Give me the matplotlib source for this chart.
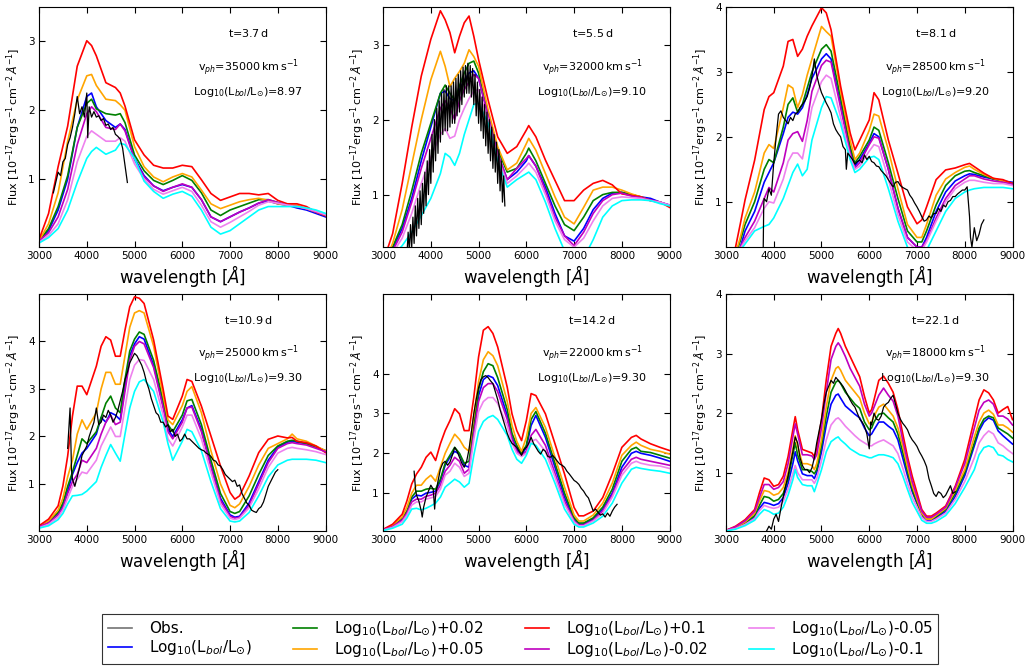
import matplotlib
matplotlib.use('Agg')
import matplotlib.pyplot as plt
from matplotlib.lines import Line2D

# ---------------- Panel 1 : t=3.7 d ----------------
p1_wave = [3000,3200,3400,3600,3800,4000,4100,4200,4400,4600,4700,4800,5000,5200,5400,5600,5800,6000,6200,6400,6600,6800,7000,7200,7400,7600,7800,8000,8200,8400,8600,8800,9000]
p1_base = [0.10,0.25,0.55,1.00,1.75,2.20,2.25,2.05,1.85,1.75,1.80,1.72,1.30,1.05,0.90,0.83,0.88,0.92,0.88,0.70,0.45,0.38,0.45,0.52,0.58,0.65,0.68,0.64,0.62,0.58,0.55,0.50,0.45]
p1_p002 = [0.10,0.28,0.60,1.05,1.75,2.10,2.16,2.02,1.95,1.93,1.95,1.82,1.35,1.12,0.98,0.92,0.98,1.05,0.98,0.80,0.55,0.47,0.55,0.60,0.65,0.70,0.70,0.66,0.62,0.60,0.57,0.52,0.47]
p1_p005 = [0.10,0.35,0.80,1.55,2.15,2.50,2.52,2.36,2.16,2.14,2.08,2.00,1.47,1.18,1.03,0.96,1.03,1.08,1.03,0.84,0.64,0.57,0.62,0.67,0.70,0.72,0.69,0.64,0.62,0.62,0.57,0.52,0.47]
p1_p01 = [0.12,0.50,1.18,1.77,2.64,3.01,2.94,2.79,2.40,2.33,2.25,2.06,1.57,1.35,1.20,1.16,1.16,1.20,1.18,0.99,0.79,0.69,0.74,0.79,0.79,0.77,0.79,0.69,0.64,0.64,0.60,0.52,0.47]
p1_m002 = [0.10,0.22,0.45,0.85,1.50,1.95,2.05,1.98,1.75,1.72,1.80,1.70,1.28,1.03,0.90,0.82,0.88,0.93,0.88,0.70,0.45,0.38,0.45,0.52,0.58,0.65,0.70,0.66,0.62,0.60,0.57,0.52,0.48]
p1_m005 = [0.08,0.18,0.35,0.70,1.25,1.62,1.70,1.65,1.55,1.55,1.60,1.55,1.22,1.00,0.85,0.78,0.83,0.88,0.82,0.62,0.38,0.30,0.37,0.45,0.53,0.62,0.67,0.65,0.62,0.60,0.57,0.53,0.48]
p1_m01 = [0.07,0.15,0.28,0.55,0.95,1.30,1.40,1.46,1.36,1.42,1.52,1.50,1.30,0.97,0.82,0.72,0.78,0.82,0.75,0.55,0.30,0.20,0.25,0.35,0.45,0.55,0.60,0.60,0.60,0.60,0.58,0.55,0.50]
p1_obs = [(3300,0.80),(3350,0.95),(3400,1.10),(3450,1.05),(3500,1.25),(3550,1.30),(3600,1.50),(3650,1.60),
          (3700,1.75),(3750,1.95),(3800,2.20),(3850,1.95),(3900,2.05),(3950,1.90),(4000,2.25),(4020,1.60),
          (4050,2.05),(4100,1.90),(4150,1.98),(4200,1.90),(4250,1.92),(4300,1.85),(4350,1.88),(4400,1.78),
          (4450,1.80),(4500,1.72),(4550,1.75),(4600,1.65),(4650,1.62),(4700,1.58),(4750,1.45),(4800,1.20),(4850,0.95)]

# ---------------- Panel 2 : t=5.5 d ----------------
p2_wave = [3000,3200,3400,3600,3800,4000,4200,4300,4400,4500,4600,4700,4800,4900,5000,5200,5400,5600,5800,6000,6050,6200,6400,6600,6800,7000,7200,7400,7600,7800,8000,8200,8400,8600,8800,9000]
p2_base = [0.05,0.28,0.55,0.95,1.45,1.90,2.35,2.38,2.28,2.25,2.40,2.52,2.62,2.65,2.55,2.05,1.55,1.20,1.30,1.45,1.52,1.38,1.10,0.75,0.45,0.38,0.55,0.80,0.95,1.02,1.03,1.00,0.97,0.95,0.90,0.86]
p2_p002 = [0.05,0.30,0.60,1.05,1.55,1.95,2.35,2.46,2.35,2.26,2.45,2.62,2.75,2.78,2.62,2.05,1.60,1.30,1.35,1.55,1.62,1.45,1.15,0.85,0.60,0.52,0.70,0.92,1.00,1.03,1.03,1.00,0.97,0.92,0.90,0.85]
p2_p005 = [0.05,0.35,0.80,1.40,2.00,2.53,2.91,2.71,2.44,2.55,2.64,2.75,2.93,2.84,2.71,2.13,1.64,1.33,1.42,1.68,1.75,1.59,1.28,0.97,0.70,0.61,0.83,1.06,1.10,1.10,1.06,1.01,0.97,0.92,0.90,0.85]
p2_p01 = [0.10,0.48,1.15,1.90,2.58,3.07,3.45,3.33,3.16,2.89,3.11,3.29,3.38,3.11,2.80,2.26,1.77,1.55,1.64,1.86,1.92,1.77,1.46,1.19,0.92,0.92,1.06,1.15,1.19,1.13,1.01,0.99,0.97,0.92,0.90,0.83]
p2_m002 = [0.05,0.25,0.50,0.90,1.35,1.75,2.15,2.25,2.15,2.00,2.25,2.40,2.50,2.60,2.55,2.05,1.55,1.20,1.35,1.48,1.52,1.38,1.05,0.70,0.45,0.32,0.50,0.75,0.92,1.00,1.02,0.98,0.96,0.93,0.90,0.86]
p2_m005 = [0.05,0.22,0.42,0.75,1.15,1.50,1.80,1.88,1.75,1.78,2.00,2.15,2.28,2.38,2.40,2.00,1.50,1.15,1.25,1.38,1.42,1.30,1.00,0.65,0.40,0.30,0.42,0.65,0.85,0.95,0.97,0.96,0.95,0.92,0.90,0.86]
p2_m01 = [0.05,0.18,0.32,0.50,0.72,0.95,1.28,1.55,1.50,1.39,1.55,1.80,2.00,2.20,2.22,1.95,1.45,1.10,1.20,1.28,1.30,1.20,0.90,0.55,0.25,0.10,0.15,0.40,0.70,0.85,0.92,0.93,0.93,0.92,0.88,0.85]
p2_obs_wave = [3500,3525,3550,3575,3600,3625,3650,3675,3700,3725,3750,3775,3800,3825,3850,3875,3900,3925,3950,3975,
               4000,4025,4050,4075,4100,4125,4150,4175,4200,4225,4250,4275,4300,4325,4350,4375,4400,4425,4450,4475,
               4500,4525,4550,4575,4600,4625,4650,4675,4700,4725,4750,4775,4800,4825,4850,4875,4900,4925,4950,4975,
               5000,5025,5050,5075,5100,5125,5150,5175,5200,5225,5250,5275,5300,5325,5350,5375,5400,5425,5450,5475,
               5500,5525,5550]
p2_obs_flux = [0.20,0.50,0.25,0.60,0.30,0.70,0.35,0.85,0.45,0.95,0.55,1.05,0.60,1.15,0.75,1.30,0.85,1.45,1.00,1.60,
               1.15,1.80,1.30,2.00,1.45,2.15,1.55,2.25,1.70,2.35,1.80,2.40,1.85,2.45,1.85,2.45,1.90,2.45,1.95,2.50,
               1.95,2.55,2.05,2.60,2.10,2.65,2.20,2.70,2.30,2.72,2.35,2.75,2.35,2.72,2.30,2.68,2.20,2.60,2.05,2.50,
               1.95,2.40,1.85,2.30,1.75,2.20,1.65,2.10,1.55,2.00,1.45,1.90,1.35,1.80,1.30,1.70,1.15,1.60,1.05,1.45,
               0.90,1.25,0.85]

# ---------------- Panel 3 : t=8.1 d ----------------
p3_wave = [3000,3200,3300,3400,3600,3800,3900,4000,4200,4300,4400,4500,4600,4700,4800,5000,5100,5200,5400,5600,5700,5800,6000,6100,6200,6400,6600,6800,7000,7100,7200,7400,7600,7800,8000,8100,8200,8400,8600,8800,9000]
p3_base = [0.0,0.15,0.30,0.55,0.85,1.30,1.45,1.60,2.05,2.30,2.38,2.35,2.45,2.65,2.90,3.20,3.28,3.20,2.50,1.80,1.55,1.65,1.90,2.05,2.00,1.50,0.90,0.45,0.30,0.30,0.45,0.85,1.15,1.32,1.40,1.43,1.42,1.38,1.35,1.32,1.30]
p3_p002 = [0.0,0.18,0.40,0.65,1.00,1.50,1.65,1.60,2.15,2.50,2.60,2.38,2.50,2.75,3.00,3.35,3.42,3.32,2.60,1.85,1.60,1.70,1.95,2.15,2.10,1.60,1.05,0.55,0.38,0.38,0.55,0.95,1.25,1.40,1.47,1.48,1.45,1.40,1.35,1.32,1.28]
p3_p005 = [0.0,0.20,0.45,0.75,1.15,1.75,1.88,1.82,2.45,2.80,2.75,2.45,2.65,2.95,3.20,3.70,3.62,3.55,2.70,1.95,1.65,1.75,2.10,2.35,2.32,1.80,1.20,0.65,0.45,0.45,0.65,1.10,1.35,1.45,1.53,1.55,1.50,1.42,1.36,1.32,1.28]
p3_p01 = [0.0,0.30,0.66,1.03,1.64,2.42,2.62,2.68,3.09,3.47,3.50,3.24,3.35,3.55,3.71,3.99,3.91,3.65,2.78,2.06,1.80,1.95,2.26,2.68,2.57,1.95,1.44,0.92,0.66,0.72,0.92,1.34,1.49,1.52,1.57,1.59,1.54,1.44,1.36,1.34,1.28]
p3_m002 = [0.0,0.15,0.30,0.45,0.70,1.05,1.22,1.15,1.60,1.95,2.05,2.08,1.93,2.25,2.70,3.10,3.18,3.15,2.45,1.75,1.52,1.60,1.88,2.00,1.98,1.50,0.90,0.45,0.30,0.30,0.40,0.75,1.05,1.25,1.35,1.40,1.40,1.35,1.32,1.30,1.27]
p3_m005 = [0.0,0.14,0.28,0.40,0.60,0.90,1.00,0.98,1.35,1.62,1.75,1.75,1.66,2.05,2.45,2.85,2.95,2.90,2.30,1.70,1.50,1.55,1.78,1.88,1.85,1.35,0.80,0.38,0.25,0.25,0.38,0.70,1.00,1.20,1.30,1.33,1.33,1.30,1.28,1.28,1.25]
p3_m01 = [0.0,0.12,0.25,0.35,0.55,0.62,0.65,0.75,1.05,1.25,1.45,1.58,1.40,1.50,1.95,2.45,2.62,2.60,2.20,1.65,1.45,1.50,1.68,1.70,1.65,1.20,0.70,0.30,0.18,0.15,0.25,0.55,0.85,1.05,1.15,1.18,1.20,1.22,1.22,1.22,1.20]
p3_obs = [(3780,0.30),(3790,0.95),(3800,1.05),(3850,1.00),(3900,1.20),(3950,1.10),(4000,1.60),(4050,2.00),
          (4100,2.35),(4150,2.40),(4200,2.30),(4250,2.25),(4300,2.20),(4350,2.30),(4400,2.25),(4450,2.35),
          (4500,2.38),(4550,2.45),(4600,2.50),(4650,2.55),(4700,2.62),(4750,2.75),(4800,2.93),(4850,3.20),
          (4900,2.95),(4950,2.80),(5000,2.68),(5050,2.60),(5100,2.52),(5150,2.45),(5200,2.37),(5250,2.20),
          (5300,2.11),(5350,2.05),(5400,2.00),(5450,1.85),(5500,1.80),(5520,1.50),(5550,1.75),(5600,1.70),
          (5650,1.65),(5700,1.58),(5750,1.62),(5800,1.64),(5850,1.60),(5900,1.72),(5950,1.65),(6000,1.70),
          (6050,1.62),(6100,1.60),(6150,1.55),(6200,1.54),(6250,1.48),(6300,1.44),(6350,1.40),(6400,1.34),
          (6450,1.28),(6500,1.23),(6550,1.30),(6600,1.31),(6650,1.25),(6700,1.22),(6750,1.20),(6800,1.18),
          (6850,1.10),(6900,1.05),(6950,0.98),(7000,0.92),(7050,0.85),(7100,0.77),(7150,0.70),(7200,0.72),
          (7250,0.78),(7300,0.75),(7350,0.82),(7400,0.82),(7450,0.90),(7500,0.85),(7550,0.95),(7600,0.92),
          (7650,1.00),(7700,1.02),(7750,1.08),(7800,1.08),(7850,1.12),(7900,1.15),(7950,1.18),(8000,1.18),
          (8050,1.23),(8100,0.77),(8120,0.45),(8150,0.30),(8200,0.60),(8250,0.40),(8300,0.50),(8350,0.65),(8400,0.72)]

# ---------------- Panel 4 : t=10.9 d ----------------
p4_wave = [3000,3200,3400,3500,3600,3700,3800,3900,4000,4200,4300,4400,4500,4600,4700,4800,4900,5000,5100,5200,5400,5600,5700,5800,6000,6100,6200,6400,6600,6800,7000,7100,7200,7400,7600,7800,8000,8200,8300,8400,8600,8800,9000]
p4_base = [0.10,0.20,0.38,0.55,0.85,1.20,1.45,1.65,1.75,2.05,2.40,2.30,2.50,2.45,2.35,3.05,3.70,3.95,4.10,4.05,3.50,2.65,2.15,2.00,2.35,2.60,2.65,2.15,1.40,0.70,0.35,0.30,0.32,0.60,1.05,1.50,1.78,1.88,1.90,1.88,1.85,1.78,1.70]
p4_p002 = [0.10,0.20,0.40,0.60,0.95,1.25,1.60,1.95,1.85,2.10,2.40,2.70,2.85,2.60,2.50,3.20,3.80,4.05,4.20,4.15,3.60,2.75,2.25,2.10,2.45,2.75,2.78,2.25,1.50,0.80,0.42,0.38,0.42,0.75,1.20,1.60,1.80,1.90,1.92,1.90,1.85,1.78,1.70]
p4_p005 = [0.10,0.22,0.45,0.70,1.15,1.50,2.05,2.35,2.15,2.50,3.00,3.35,3.35,3.10,3.10,3.70,4.30,4.60,4.65,4.60,3.90,2.85,2.35,2.25,2.65,2.95,3.05,2.50,1.70,1.00,0.55,0.50,0.58,0.95,1.40,1.75,1.85,1.95,2.05,1.95,1.90,1.80,1.70]
p4_p01 = [0.12,0.26,0.54,0.96,1.59,2.43,3.06,3.06,2.88,3.48,3.90,4.10,4.03,3.69,3.69,4.24,4.73,4.94,4.91,4.80,4.03,2.99,2.43,2.36,2.85,3.20,3.16,2.64,2.01,1.38,0.82,0.68,0.75,1.17,1.66,1.94,2.01,1.97,1.98,1.90,1.87,1.80,1.66]
p4_m002 = [0.10,0.18,0.35,0.50,0.80,1.05,1.20,1.50,1.45,1.75,2.05,2.30,2.45,2.25,2.30,2.95,3.60,3.90,4.00,3.95,3.45,2.60,2.10,1.95,2.30,2.60,2.62,2.10,1.35,0.65,0.32,0.28,0.30,0.55,1.00,1.45,1.75,1.85,1.87,1.85,1.82,1.75,1.68]
p4_m005 = [0.08,0.15,0.30,0.45,0.70,0.95,1.10,1.25,1.22,1.50,1.80,2.00,2.20,2.00,2.00,2.60,3.20,3.50,3.62,3.60,3.20,2.45,1.95,1.80,2.20,2.45,2.45,1.95,1.25,0.58,0.28,0.25,0.28,0.50,0.90,1.35,1.65,1.75,1.77,1.75,1.72,1.68,1.62]
p4_m01 = [0.07,0.12,0.25,0.38,0.58,0.75,0.76,0.78,0.85,1.05,1.35,1.60,1.83,1.65,1.48,2.05,2.60,2.95,3.15,3.20,2.95,2.30,1.85,1.50,1.90,2.15,2.10,1.70,1.05,0.48,0.22,0.20,0.22,0.40,0.75,1.15,1.40,1.50,1.52,1.52,1.52,1.50,1.45]
p4_obs = [(3600,1.75),(3650,2.60),(3680,1.30),(3700,1.10),(3750,0.95),(3800,1.15),(3850,1.35),(3900,1.60),
          (3950,1.70),(4000,1.80),(4050,2.00),(4100,2.15),(4150,2.30),(4200,2.60),(4250,2.25),(4300,2.30),
          (4350,2.45),(4400,2.40),(4450,2.55),(4500,2.45),(4550,2.30),(4600,2.40),(4650,2.55),(4700,2.75),
          (4750,2.95),(4800,3.20),(4850,3.35),(4900,3.55),(4950,3.65),(5000,3.75),(5050,3.70),(5100,3.60),
          (5150,3.50),(5200,3.35),(5250,3.15),(5300,3.00),(5350,2.80),(5400,2.65),(5450,2.50),(5500,2.45),
          (5550,2.30),(5600,2.30),(5650,2.20),(5700,2.25),(5750,2.10),(5800,2.15),(5850,2.00),(5900,2.05),
          (5950,1.90),(6000,1.95),(6050,2.05),(6100,1.95),(6150,1.95),(6200,1.90),(6250,1.85),(6300,1.80),
          (6350,1.75),(6400,1.72),(6450,1.70),(6500,1.65),(6550,1.62),(6600,1.58),(6650,1.50),(6700,1.48),
          (6750,1.40),(6800,1.38),(6850,1.30),(6900,1.20),(6950,1.15),(7000,1.10),(7050,1.05),(7100,1.08),
          (7150,0.95),(7200,0.98),(7250,0.80),(7300,0.70),(7350,0.60),(7400,0.55),(7450,0.45),(7500,0.42),
          (7550,0.40),(7600,0.48),(7650,0.52),(7700,0.62),(7750,0.78),(7800,0.95),(7850,1.05),(7900,1.15),
          (7950,1.25),(8000,1.30)]

# ---------------- Panel 5 : t=14.2 d ----------------
p5_wave = [3000,3200,3400,3500,3600,3700,3800,3900,4000,4100,4200,4300,4400,4500,4600,4700,4800,4900,5000,5100,5200,5300,5400,5600,5700,5800,5900,6000,6100,6200,6400,6600,6800,7000,7100,7200,7400,7600,7800,8000,8200,8300,8400,8600,8800,9000]
p5_base = [0.08,0.17,0.35,0.52,0.85,0.95,0.93,1.00,1.02,1.05,1.30,1.70,1.90,2.05,1.98,1.70,1.65,2.60,3.45,3.85,3.95,3.90,3.70,2.95,2.40,2.10,1.95,2.15,2.70,2.95,2.40,1.65,0.90,0.33,0.22,0.22,0.35,0.60,1.00,1.65,2.00,2.05,2.00,1.95,1.88,1.80]
p5_p002 = [0.08,0.18,0.38,0.55,0.90,1.05,1.05,1.10,1.12,1.10,1.35,1.75,1.95,2.15,2.00,1.75,1.80,2.70,3.60,4.05,4.25,4.20,3.90,3.10,2.50,2.20,2.00,2.20,2.85,3.05,2.50,1.75,1.00,0.38,0.25,0.25,0.38,0.65,1.10,1.80,2.10,2.15,2.05,2.02,1.95,1.88]
p5_p005 = [0.08,0.20,0.40,0.65,1.00,1.20,1.20,1.35,1.45,1.30,1.65,2.00,2.25,2.48,2.35,2.15,2.05,2.95,3.80,4.35,4.55,4.45,4.20,3.30,2.70,2.30,2.05,2.40,3.00,3.15,2.65,1.90,1.15,0.45,0.30,0.30,0.45,0.75,1.25,1.95,2.20,2.28,2.20,2.10,2.05,1.98]
p5_p01 = [0.09,0.22,0.47,0.81,1.23,1.48,1.65,1.90,2.03,1.82,2.24,2.57,2.82,3.12,2.99,2.57,2.57,3.41,4.42,5.09,5.18,5.01,4.67,3.66,2.99,2.57,2.32,2.82,3.50,3.45,2.99,2.24,1.48,0.64,0.43,0.43,0.55,0.89,1.48,2.15,2.40,2.45,2.36,2.24,2.15,2.07]
p5_m002 = [0.08,0.16,0.32,0.50,0.78,0.85,0.85,0.92,0.95,1.00,1.20,1.55,1.70,1.90,1.80,1.50,1.60,2.50,3.30,3.65,3.75,3.75,3.55,2.85,2.35,2.05,1.95,2.05,2.45,2.60,2.20,1.50,0.80,0.30,0.20,0.20,0.32,0.55,0.95,1.55,1.85,1.90,1.85,1.80,1.75,1.70]
p5_m005 = [0.07,0.14,0.28,0.45,0.70,0.78,0.78,0.85,0.88,0.92,1.10,1.45,1.55,1.75,1.65,1.42,1.50,2.35,3.05,3.30,3.40,3.40,3.25,2.70,2.25,2.00,1.92,2.00,2.30,2.35,2.05,1.40,0.72,0.28,0.18,0.18,0.30,0.50,0.90,1.45,1.75,1.80,1.75,1.70,1.68,1.62]
p5_m01 = [0.06,0.12,0.22,0.38,0.60,0.62,0.58,0.62,0.68,0.75,0.90,1.15,1.25,1.35,1.28,1.15,1.25,1.95,2.55,2.80,2.90,2.95,2.85,2.45,2.10,1.85,1.75,1.95,2.25,2.20,1.85,1.25,0.60,0.22,0.15,0.15,0.25,0.42,0.75,1.25,1.60,1.65,1.62,1.58,1.55,1.50]
p5_obs = [(3650,1.55),(3680,1.10),(3700,0.95),(3750,0.80),(3800,0.55),(3820,0.40),(3850,0.65),(3900,0.90),
          (3950,1.05),(4000,1.20),(4050,1.10),(4080,0.60),(4100,0.95),(4150,1.30),(4200,1.60),(4250,1.75),
          (4300,1.80),(4350,1.70),(4400,1.78),(4450,1.95),(4500,2.15),(4550,2.05),(4600,1.90),(4650,1.75),
          (4700,1.65),(4750,1.80),(4800,2.10),(4850,2.55),(4900,3.00),(4950,3.35),(5000,3.65),(5050,3.85),
          (5100,3.92),(5150,3.95),(5200,3.90),(5250,3.82),(5300,3.75),(5350,3.55),(5400,3.35),(5450,3.10),
          (5500,2.90),(5550,2.70),(5600,2.50),(5650,2.35),(5700,2.25),(5750,2.20),(5800,2.15),(5850,2.05),
          (5900,1.95),(5950,2.10),(6000,2.15),(6050,2.25),(6100,2.40),(6150,2.25),(6200,2.15),(6250,2.05),
          (6300,1.98),(6350,2.10),(6400,2.05),(6450,1.92),(6500,1.90),(6550,1.95),(6600,1.88),(6650,1.80),
          (6700,1.73),(6750,1.70),(6800,1.65),(6850,1.55),(6900,1.48),(6950,1.40),(7000,1.32),(7050,1.28),
          (7100,1.22),(7150,1.12),(7200,1.05),(7250,0.95),(7300,0.88),(7350,0.72),(7400,0.55),(7450,0.60),
          (7500,0.52),(7550,0.45),(7600,0.48),(7650,0.40),(7700,0.50),(7750,0.42),(7800,0.55),(7850,0.65),(7900,0.72)]

# ---------------- Panel 6 : t=22.1 d ----------------
p6_wave = [3000,3200,3400,3600,3700,3800,3900,4000,4100,4200,4300,4400,4450,4500,4600,4700,4800,4850,4900,5000,5100,5200,5300,5350,5400,5500,5600,5700,5800,5900,6000,6050,6100,6200,6300,6400,6500,6600,6700,6800,6900,7000,7100,7200,7300,7400,7600,7800,8000,8200,8300,8400,8500,8600,8700,8800,8900,9000]
p6_base = [0.03,0.07,0.14,0.25,0.40,0.50,0.48,0.45,0.48,0.58,0.82,1.15,1.35,1.20,0.98,0.95,0.95,0.90,1.00,1.35,1.80,2.15,2.30,2.32,2.25,2.12,2.05,1.98,1.92,1.75,1.62,1.65,1.72,1.85,1.85,1.78,1.72,1.55,1.25,0.95,0.68,0.48,0.28,0.20,0.20,0.24,0.35,0.60,0.95,1.45,1.70,1.85,1.92,1.88,1.70,1.62,1.55,1.48]
p6_p002 = [0.03,0.07,0.15,0.28,0.45,0.60,0.58,0.52,0.55,0.65,0.90,1.30,1.50,1.30,1.05,1.05,1.02,0.98,1.05,1.45,1.95,2.35,2.52,2.55,2.50,2.35,2.25,2.15,2.08,1.85,1.72,1.75,1.85,1.98,2.00,1.92,1.85,1.65,1.35,1.02,0.72,0.50,0.30,0.22,0.22,0.26,0.38,0.65,1.00,1.50,1.75,1.90,1.95,1.92,1.75,1.70,1.65,1.58]
p6_p005 = [0.03,0.08,0.17,0.32,0.52,0.70,0.68,0.62,0.65,0.75,1.00,1.40,1.62,1.45,1.15,1.15,1.12,1.05,1.15,1.55,2.10,2.55,2.75,2.78,2.72,2.55,2.45,2.35,2.25,2.00,1.82,1.85,1.95,2.10,2.15,2.05,1.95,1.75,1.45,1.10,0.78,0.55,0.32,0.22,0.22,0.28,0.40,0.70,1.05,1.60,1.85,2.00,2.05,1.98,1.80,1.80,1.75,1.68]
p6_p01 = [0.03,0.10,0.21,0.38,0.66,0.91,0.88,0.77,0.80,0.94,1.27,1.72,1.94,1.72,1.39,1.36,1.33,1.27,1.39,1.89,2.56,3.12,3.34,3.42,3.34,3.12,2.95,2.78,2.61,2.28,2.00,2.06,2.22,2.55,2.62,2.50,2.35,2.06,1.66,1.27,0.94,0.66,0.38,0.27,0.27,0.32,0.44,0.77,1.22,1.89,2.22,2.39,2.34,2.22,2.00,2.06,2.11,1.89]
p6_m002 = [0.03,0.09,0.19,0.35,0.58,0.80,0.80,0.72,0.75,0.85,1.15,1.60,1.82,1.65,1.30,1.30,1.28,1.22,1.30,1.75,2.35,2.90,3.12,3.18,3.12,2.95,2.75,2.60,2.45,2.15,1.95,2.00,2.10,2.30,2.42,2.30,2.20,1.95,1.55,1.20,0.85,0.60,0.35,0.25,0.25,0.30,0.42,0.75,1.15,1.75,2.05,2.18,2.22,2.15,1.95,1.95,1.90,1.80]
p6_m005 = [0.03,0.06,0.13,0.23,0.36,0.45,0.42,0.40,0.42,0.52,0.72,0.98,1.12,1.00,0.88,0.88,0.88,0.82,0.90,1.20,1.55,1.80,1.90,1.92,1.88,1.78,1.70,1.62,1.55,1.50,1.45,1.45,1.48,1.52,1.55,1.50,1.45,1.32,1.08,0.82,0.58,0.42,0.25,0.18,0.18,0.22,0.32,0.55,0.85,1.25,1.50,1.62,1.70,1.65,1.50,1.45,1.38,1.32]
p6_m01 = [0.02,0.05,0.11,0.20,0.30,0.38,0.35,0.30,0.32,0.42,0.62,0.88,1.05,0.92,0.80,0.78,0.78,0.68,0.80,1.05,1.35,1.52,1.58,1.60,1.55,1.48,1.40,1.35,1.30,1.28,1.25,1.25,1.27,1.30,1.30,1.28,1.25,1.15,0.95,0.72,0.50,0.35,0.20,0.15,0.15,0.18,0.28,0.48,0.75,1.05,1.30,1.42,1.45,1.42,1.30,1.28,1.22,1.18]
p6_obs = [(3850,0.02),(3900,0.10),(3950,0.05),(4000,0.22),(4050,0.30),(4100,0.18),(4150,0.40),(4200,0.60),
          (4250,0.78),(4300,0.95),(4350,1.15),(4400,1.35),(4450,1.60),(4500,1.50),(4550,1.25),(4600,1.12),
          (4650,1.05),(4700,1.05),(4750,1.00),(4800,1.08),(4850,1.25),(4900,1.50),(4950,1.70),(5000,1.90),
          (5050,2.15),(5100,2.35),(5150,2.45),(5200,2.55),(5250,2.50),(5300,2.60),(5350,2.55),(5400,2.50),
          (5450,2.45),(5500,2.38),(5550,2.30),(5600,2.22),(5650,2.15),(5700,2.10),(5750,2.00),(5800,1.90),
          (5850,1.85),(5900,1.78),(5950,1.65),(6000,1.40),(6030,1.85),(6050,1.80),(6100,2.00),(6150,1.90),
          (6200,1.88),(6250,1.95),(6300,2.10),(6350,2.15),(6400,2.18),(6450,2.25),(6500,2.30),(6550,2.15),
          (6600,2.00),(6650,1.90),(6700,1.83),(6750,1.78),(6800,1.72),(6850,1.62),(6900,1.55),(6950,1.50),
          (7000,1.44),(7050,1.35),(7100,1.28),(7150,1.20),(7200,1.10),(7250,0.90),(7300,0.78),(7350,0.65),
          (7400,0.60),(7450,0.68),(7500,0.65),(7550,0.58),(7600,0.62),(7650,0.70),(7700,0.78),(7750,0.65),(7800,0.68)]

# ---------------- Panel annotations ----------------
epochs = ['t=3.7$\\,$d', 't=5.5$\\,$d', 't=8.1$\\,$d', 't=10.9$\\,$d', 't=14.2$\\,$d', 't=22.1$\\,$d']
vph = [35000, 32000, 28500, 25000, 22000, 18000]
loglum = ['8.97', '9.10', '9.20', '9.30', '9.30', '9.30']
ylims = [(0.01, 3.5), (0.3, 3.5), (0.3, 4.0), (0.01, 5.0), (0.05, 6.0), (0.02, 4.0)]
yticks = [[1, 2, 3], [1, 2, 3], [1, 2, 3, 4], [1, 2, 3, 4], [1, 2, 3, 4], [1, 2, 3, 4]]
xticks = [3000, 4000, 5000, 6000, 7000, 8000, 9000]

LB = r'Log$_{10}$(L$_{bol}$/L$_{\odot}$)'
series_labels = ['Obs.', LB, LB + '+0.02', LB + '+0.05', LB + '+0.1', LB + '-0.02', LB + '-0.05', LB + '-0.1']
model_colors = ['b', 'g', 'orange', 'r', 'm', 'violet', 'cyan']

panels = [
    (p1_wave, [p1_base, p1_p002, p1_p005, p1_p01, p1_m002, p1_m005, p1_m01],
     [p[0] for p in p1_obs], [p[1] for p in p1_obs]),
    (p2_wave, [p2_base, p2_p002, p2_p005, p2_p01, p2_m002, p2_m005, p2_m01],
     p2_obs_wave, p2_obs_flux),
    (p3_wave, [p3_base, p3_p002, p3_p005, p3_p01, p3_m002, p3_m005, p3_m01],
     [p[0] for p in p3_obs], [p[1] for p in p3_obs]),
    (p4_wave, [p4_base, p4_p002, p4_p005, p4_p01, p4_m002, p4_m005, p4_m01],
     [p[0] for p in p4_obs], [p[1] for p in p4_obs]),
    (p5_wave, [p5_base, p5_p002, p5_p005, p5_p01, p5_m002, p5_m005, p5_m01],
     [p[0] for p in p5_obs], [p[1] for p in p5_obs]),
    (p6_wave, [p6_base, p6_p002, p6_p005, p6_p01, p6_m002, p6_m005, p6_m01],
     [p[0] for p in p6_obs], [p[1] for p in p6_obs]),
]

plt.rcParams.update({
    'font.family': 'DejaVu Sans',
    'mathtext.fontset': 'dejavusans',
    'xtick.direction': 'in', 'ytick.direction': 'in',
    'xtick.top': True, 'ytick.right': True,
    'xtick.major.size': 4, 'ytick.major.size': 4,
    'xtick.major.width': 0.8, 'ytick.major.width': 0.8,
    'xtick.labelsize': 7.5, 'ytick.labelsize': 7.5,
    'xtick.major.pad': 3, 'ytick.major.pad': 3,
    'axes.linewidth': 0.8,
})

fig = plt.figure(figsize=(10.27, 6.68), dpi=100)
lefts = [0.038, 0.373, 0.7069]
width = 0.2790
row_bottoms = [0.630, 0.2051]
heights = [0.3595, 0.3548]

for i, (wave, models, ow, of) in enumerate(panels):
    r, c = divmod(i, 3)
    ax = fig.add_axes([lefts[c], row_bottoms[r], width, heights[r]])
    for vals, col in zip(models, model_colors):
        if len(vals) != len(wave):
            raise ValueError(f'panel {i+1} length {len(vals)} vs {len(wave)}')
        ax.plot(wave, vals, color=col, lw=1.2, zorder=2)
    ax.plot(ow, of, color='k', lw=0.9, zorder=3)
    ax.set_xlim(3000, 9000)
    ax.set_ylim(*ylims[i])
    ax.set_xticks(xticks)
    ax.set_yticks(yticks[i])
    ax.set_xlabel(r'wavelength [$\AA$]', fontsize=12, labelpad=1)
    ax.set_ylabel(r'Flux [$10^{-17}$erg$\,$s$^{-1}$$\,$cm$^{-2}\,\AA^{-1}$]', fontsize=8, labelpad=4)
    ax.text(0.73, 0.89, epochs[i], transform=ax.transAxes, ha='center', va='center', fontsize=8)
    ax.text(0.73, 0.75, 'v$_{ph}$=%d$\\,$km$\\,$s$^{-1}$' % vph[i], transform=ax.transAxes,
            ha='center', va='center', fontsize=8)
    ax.text(0.73, 0.645, LB + '=' + loglum[i], transform=ax.transAxes, ha='center', va='center', fontsize=8)

handles = [Line2D([], [], color='0.45', lw=1.2)] + [Line2D([], [], color=c, lw=1.2) for c in model_colors]
leg = fig.legend(handles, series_labels, loc='center', bbox_to_anchor=(0.5065, 0.043), ncol=4,
                 fontsize=11, frameon=True, fancybox=False, edgecolor='black', handlelength=1.6,
                 columnspacing=2.7, handletextpad=1.1, borderpad=0.35, labelspacing=0.15)
leg.get_frame().set_linewidth(0.8)

fig.savefig('out.png', dpi=100)
